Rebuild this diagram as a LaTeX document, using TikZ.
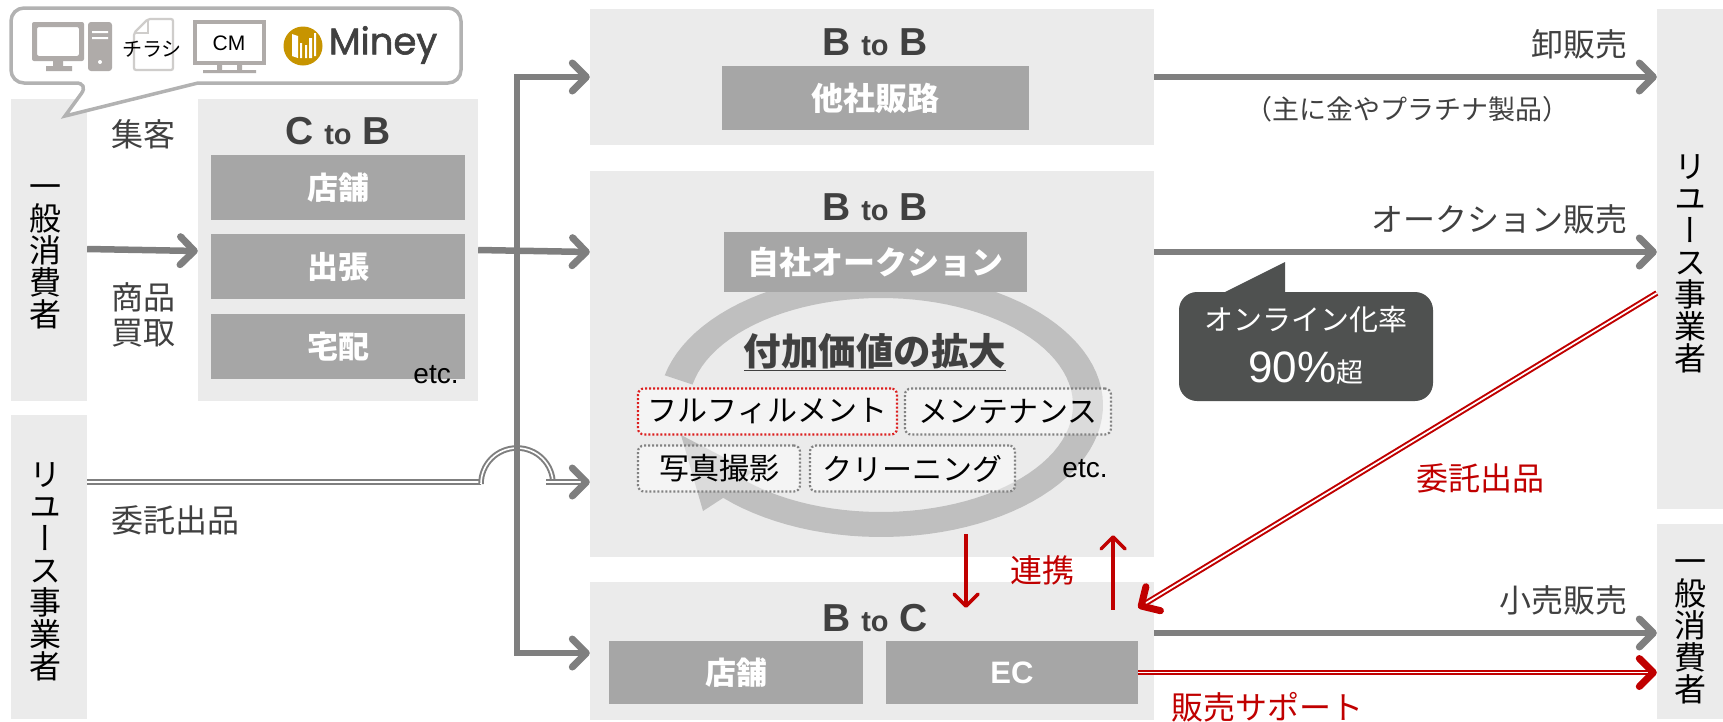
\documentclass[tikz,border=0pt]{standalone}
\usepackage{fontspec}
\usepackage{tikz}
\usetikzlibrary{arrows.meta}
\setmainfont{Liberation Sans}
\newfontfamily\jpfont{Noto Sans CJK JP}
\newfontfamily\jpvert[RawFeature=+vert]{Noto Sans CJK JP}
\newfontfamily\logofont[FakeBold=1.6]{Poppins}
\newcommand{\fs}[1]{\fontsize{#1}{#1}\selectfont}
\definecolor{rkPanel}{RGB}{235,235,235}
\definecolor{rkBlock}{RGB}{166,166,166}
\definecolor{rkFlow}{RGB}{127,127,127}
\definecolor{rkRing}{RGB}{191,191,191}
\definecolor{rkText}{RGB}{64,64,64}
\definecolor{rkRed}{RGB}{192,0,0}
\definecolor{rkDots}{RGB}{130,130,130}
\definecolor{rkDotsRed}{RGB}{220,30,30}
\definecolor{rkCall}{RGB}{79,81,80}
\definecolor{rkIcon}{RGB}{175,171,169}
\definecolor{rkGold}{RGB}{199,148,0}
\begin{document}
\begin{tikzpicture}[
      x=1pt, y=-1pt,
      panel/.style={fill=rkPanel, inner sep=0pt, minimum width=#1},
      panel/.default=564pt,
      block/.style={fill=rkBlock, inner sep=0pt, text=white, font=\jpfont\bfseries\fs{31}},
      title/.style={text=rkText, inner sep=0pt, font=\bfseries\fs{39}},
      label/.style={text=rkText, inner sep=0pt, font=\jpfont\fs{32}, align=center},
      redlabel/.style={label, text=rkRed},
      upright/.style={inner sep=0pt, align=center, font=\jpvert\fontsize{32}{32}\selectfont},
      task/.style={draw=rkDots, line width=2.2pt, dash pattern=on 2pt off 2pt, rounded corners=6pt, fill=white, fill opacity=0.45, text opacity=1, inner sep=0pt, minimum height=46pt, font=\jpfont\fs{30}},
      barb/.tip={Straight Barb[round, length=14pt, width=28pt, line width=7pt]},
      flow/.style={draw=rkFlow, line width=6.5pt, -{barb}},
      doubleflow/.style={draw=rkFlow, line width=2pt, double=white, double distance=1.6pt},
      redflow/.style={draw=rkRed, line width=2pt, double=white, double distance=1.7pt, -{barb}},
      link/.style={draw=rkRed, line width=3.5pt, -{Straight Barb[round, length=12pt, width=24pt, line width=3.5pt]}}
    ]
      \useasboundingbox (0,0) rectangle (1723,721);

      \node[panel=76pt, minimum height=302pt] (buyer) at (49,250) {};
      \node[panel=76pt, minimum height=304pt] (reuser) at (49,567) {};
      \node[panel=280pt, minimum height=302pt] (ctob) at (338,250) {};
      \node[panel, minimum height=136pt] (bbtop) at (872,77) {};
      \node[panel, minimum height=386pt] (bbauc) at (872,364) {};
      \node[panel, minimum height=138pt] (btoc) at (872,651) {};
      \node[panel=66pt, minimum height=500pt] (sideReuse) at (1690,259) {};
      \node[panel=66pt, minimum height=195pt] (sideBuyer) at (1690,621.5) {};

      \node[upright] (buyerText) at (45,257) {一\\般\\消\\費\\者};
      \node[upright] (reuserText) at (45,572) {リ\\ユ\\ー\\ス\\事\\業\\者};
      \node[upright] (sideReuseText) at (1690,264) {リ\\ユ\\ー\\ス\\事\\業\\者};
      \node[upright] (sideBuyerText) at (1690,632) {一\\般\\消\\費\\者};

      \node[title] (ctobTitle) at (338,131) {C {\fs{29}to} B};
      \node[block, minimum width=254pt, minimum height=65pt] (shop) at (338,187.5) {店舗};
      \node[block, minimum width=254pt, minimum height=65pt] (visit) at (338,266.5) {出張};
      \node[block, minimum width=254pt, minimum height=65pt] (post) at (338,346.5) {宅配};
      \node[inner sep=0pt, font=\fs{28}] (ctobEtc) at (436,375) {etc.};

      \node[title] (bbtopTitle) at (875,42) {B {\fs{29}to} B};
      \node[block, minimum width=307pt, minimum height=64pt, font=\jpfont\bfseries\fs{32}] (other) at (875.5,98) {他社販路};
      \node[title] (bbaucTitle) at (875,207) {B {\fs{29}to} B};

      \fill[rkRing] plot[domain=193:495.3, samples=90] ({881+222*cos(\x)},{405+132*sin(\x)})
        -- (703,511) -- (681,435) -- (752,472) -- (743,479)
        -- plot[domain=495.6:191, samples=90] ({881+192*cos(\x)},{405+107*sin(\x)}) -- cycle;

      \node[block, minimum width=303pt, minimum height=60pt, font=\jpfont\bfseries\fs{32}] (auction) at (875.5,262) {自社オークション};
      \node[inner sep=0pt, text=rkText, font=\jpfont\bfseries\fs{37.5}] (value) at (875,352) {\underline{付加価値の拡大}};
      \node[task, draw=rkDotsRed, minimum width=259pt] (fulfil) at (767.5,411.5) {フルフィルメント};
      \node[task, minimum width=206pt] (repair) at (1008,411.5) {メンテナンス};
      \node[task, minimum width=162pt] (photo) at (719,468.5) {写真撮影};
      \node[task, minimum width=205pt] (clean) at (912.5,468.5) {クリーニング};
      \node[inner sep=0pt, font=\fs{28}] (aucEtc) at (1085,469) {etc.};

      \node[title] (btocTitle) at (875,618) {B {\fs{29}to} C};
      \node[block, minimum width=254pt, minimum height=63pt] (shopC) at (736,672.5) {店舗};
      \node[block, minimum width=252pt, minimum height=63pt, font=\bfseries\fs{31}] (ec) at (1012,672.5) {EC};

      \node[label] (collect) at (143,134) {集客};
      \node[label] (buyText) at (143,297) {商品};
      \node[label] (buyTextB) at (143,333) {買取};
      \node[label] (consign) at (175,520) {委託出品};
      \node[label, anchor=east] (wholesale) at (1628,44) {卸販売};
      \node[label, font=\jpfont\fs{27}] (metal) at (1407,109) {（主に金やプラチナ製品）};
      \node[label, anchor=east] (auctionSale) at (1628,219) {オークション販売};
      \node[label, anchor=east] (retail) at (1628,600) {小売販売};
      \node[redlabel] (consignRed) at (1480,478) {委託出品};
      \node[redlabel] (together) at (1042,570) {連携};
      \node[redlabel] (support) at (1267,707) {販売サポート};

      \fill[rkCall, rounded corners=18pt] (1179,292) rectangle (1433,401);
      \fill[rkCall] (1285,294) -- (1285,262) -- (1225,292) -- (1225,294) -- cycle;
      \node[inner sep=0pt, text=white, font=\jpfont\fs{29}] (rateText) at (1306,320) {オンライン化率};
      \node[inner sep=0pt, text=white, font=\fs{44}] (rateValue) at (1306,368) {90\%{\jpfont\fs{27}超}};

      \draw[rkRing!80!gray, line width=3.5pt, fill=white] (198,83) [rounded corners=13pt] -- (461,83) -- (461,8) -- (11,8) -- (11,83) -- (89,83) [sharp corners] -- (65,116) -- cycle;
      \fill[rkIcon, rounded corners=2pt, even odd rule] (32,22) rectangle (84,61) (37,27) rectangle (79,56);
      \fill[rkIcon] (53,61) rectangle (63,67) (46,66) rectangle (72,71);
      \fill[rkIcon, rounded corners=3pt] (88,22) rectangle (112,71);
      \fill[white] (92,31) rectangle (108,33) (92,37) rectangle (108,39);
      \fill[white] (100,62) circle (2pt);
      \draw[rkIcon!60!white, line width=2.2pt, rounded corners=2pt, fill=white] (148,19) -- (173,19) -- (173,70) -- (134,70) -- (134,33) -- cycle;
      \draw[rkIcon!60!white, line width=2.2pt] (148,19) -- (148,33) -- (134,33);
      \node[inner sep=0pt, font=\jpfont\fs{20}] (flyer) at (152,49) {チラシ};
      \draw[rkIcon, line width=4.5pt, fill=white] (195,22) rectangle (264,63);
      \fill[rkIcon] (217,65) rectangle (222,71) (237,65) rectangle (242,71) (203,70) rectangle (256,73);
      \node[inner sep=0pt, font=\fs{21}] (cm) at (229,43) {CM};
      \fill[rkGold] (303,46) circle (19.5pt);
      \fill[white] (292,34) -- (298,36) -- (298,58) -- (292,56) -- cycle;
      \fill[white] (300,43) rectangle (302,58) (305,45) rectangle (307,58) (309,38) rectangle (312,58) (314,33) rectangle (316,56);
      \node[inner sep=0pt, text=rkText, font=\logofont\fs{37}] (miney) at (383,45) {Miney};

      \coordinate (jumpIn) at (481,482);
      \coordinate (jumpOut) at (553,482);
      \draw[doubleflow] (reuser.east |- jumpIn) -- (jumpIn);
      \draw[doubleflow] (481,484) .. controls (481,464) and (497,448) .. (517,448) .. controls (537,448) and (553,464) .. (553,484);
      \draw[doubleflow, -{barb}] (546,482) -- (bbauc.west |- jumpIn);

      \draw[flow, {barb}-{barb}] (bbtop.west) -- (517,77) -- (517,653) -- ([yshift=-2pt]btoc.west);
      \draw[flow] ([yshift=1pt]buyer.east) -- ([yshift=-1pt]ctob.west);
      \draw[flow] (ctob.east) -- ([yshift=112pt]bbauc.west);
      \draw[flow] (bbtop.east) -- (sideReuse.west |- bbtop.east);
      \draw[flow] ([yshift=112pt]bbauc.east) -- ([yshift=7pt]sideReuse.west);
      \draw[flow] ([yshift=18pt]btoc.east) -- ([yshift=-11.5pt]sideBuyer.west);
      \draw[redflow] (ec.east) -- (sideBuyer.west |- ec.east);
      \draw[redflow] ([yshift=-34pt]sideReuse.west) -- ([xshift=-16pt,yshift=-26pt]btoc.north east);
      \draw[link] ([xshift=94pt,yshift=23pt]bbauc.south) -- ([xshift=94pt,yshift=-26pt]btoc.north);
      \draw[link] ([xshift=241pt,yshift=-28pt]btoc.north) -- ([xshift=241pt,yshift=22pt]bbauc.south);
    \end{tikzpicture}
\end{document}
